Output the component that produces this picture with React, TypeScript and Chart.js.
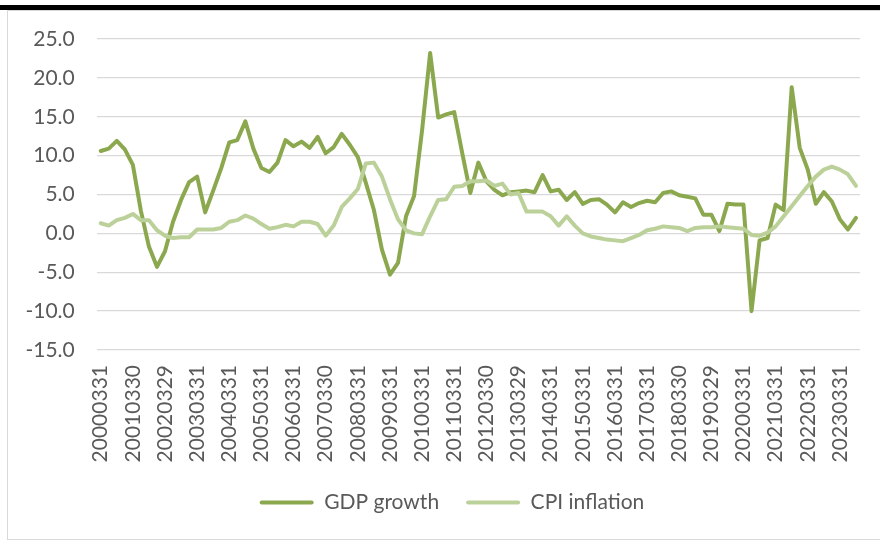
import React, { useEffect, useRef } from "react";
import { Chart, registerables } from "chart.js";

Chart.register(...registerables);

// Shown category labels (first quarter of every year)
const yearLabels: string[] = [
  "20000331", "20010330", "20020329", "20030331", "20040331", "20050331",
  "20060331", "20070330", "20080331", "20090331", "20100331", "20110331",
  "20120330", "20130329", "20140331", "20150331", "20160331", "20170331",
  "20180330", "20190329", "20200331", "20210331", "20220331", "20230331",
];

// GDP growth, quarterly 2000Q1 .. 2023Q3
const gdpGrowth: number[] = [
  10.6, 10.9, 11.9, 10.8, 8.8, 2.9, -1.7, -4.3, -2.3, 1.5,
  4.3, 6.6, 7.3, 2.7, 5.5, 8.4, 11.7, 12.0, 14.4, 10.9,
  8.4, 7.9, 9.1, 12.0, 11.2, 11.8, 11.0, 12.4, 10.3, 11.1,
  12.8, 11.4, 9.8, 6.5, 3.0, -2.1, -5.3, -3.8, 2.2, 4.8,
  13.3, 23.2, 14.9, 15.3, 15.6, 10.3, 5.2, 9.1, 6.7, 5.6,
  4.9, 5.3, 5.4, 5.5, 5.3, 7.5, 5.4, 5.6, 4.3, 5.3,
  3.8, 4.3, 4.4, 3.7, 2.7, 4.0, 3.4, 3.9, 4.2, 4.0,
  5.2, 5.4, 4.9, 4.7, 4.5, 2.4, 2.4, 0.3, 3.8, 3.7,
  3.7, -10.0, -0.9, -0.6, 3.7, 3.0, 18.8, 11.0, 8.2, 3.8,
  5.3, 4.1, 1.8, 0.5, 2.0,
];

// CPI inflation, quarterly 2000Q1 .. 2023Q3
const cpiInflation: number[] = [
  1.3, 1.0, 1.7, 2.0, 2.5, 1.7, 1.7, 0.4, -0.3, -0.6,
  -0.5, -0.5, 0.5, 0.5, 0.5, 0.7, 1.5, 1.7, 2.3, 1.9,
  1.2, 0.6, 0.8, 1.1, 0.9, 1.5, 1.5, 1.2, -0.3, 1.0,
  3.4, 4.5, 5.7, 9.0, 9.1, 7.3, 4.4, 1.8, 0.4, 0.0,
  -0.1, 2.2, 4.3, 4.4, 6.0, 6.1, 6.7, 6.7, 6.8, 6.1,
  6.4, 5.0, 5.2, 2.8, 2.8, 2.8, 2.2, 1.0, 2.2, 1.0,
  0.0, -0.4, -0.6, -0.8, -0.9, -1.0, -0.6, -0.2, 0.4, 0.6,
  0.9, 0.8, 0.7, 0.3, 0.7, 0.8, 0.8, 0.9, 0.8, 0.7,
  0.6, -0.2, -0.3, 0.1, 0.9, 2.2, 3.5, 4.8, 6.1, 7.3,
  8.2, 8.6, 8.2, 7.6, 6.1,
];

const seriesNames: string[] = ["GDP growth", "CPI inflation"];

const Y_MIN = -15;
const Y_MAX = 25;
const Y_STEP = 5;

const GDP_COLOR = "#8BA84F";
const CPI_COLOR = "#BBD199";
const TEXT_COLOR = "#595959";
const GRID_COLOR = "#D9D9D9";
const FONT_FAMILY = "Lato, 'Open Sans', sans-serif";
const FONT_SIZE = 21;

// full quarterly category list built from the yearly labels
const categories: string[] = [];
yearLabels.forEach((q1) => {
  const yr = q1.slice(0, 4);
  categories.push(q1, yr + "0630", yr + "0930", yr + "1231");
});
categories.length = gdpGrowth.length;

// nudge the legend so it is centred like the original
const legendShift = {
  id: "legendShift",
  afterLayout(chart: any) {
    const l = chart.legend;
    if (l) {
      l.left += 22;
      l.right += 22;
    }
  },
};

export default function App() {
  const canvasRef = useRef<HTMLCanvasElement | null>(null);

  useEffect(() => {
    const canvas = canvasRef.current;
    if (!canvas) return;
    const font = { family: FONT_FAMILY, size: FONT_SIZE };
    const chart = new Chart(canvas, {
      type: "line",
      data: {
        labels: categories,
        datasets: [
          {
            label: seriesNames[0],
            data: gdpGrowth,
            borderColor: GDP_COLOR,
            backgroundColor: GDP_COLOR,
            borderWidth: 4,
            pointRadius: 0,
            tension: 0,
            borderJoinStyle: "round",
            borderCapStyle: "round",
            order: 1,
          },
          {
            label: seriesNames[1],
            data: cpiInflation,
            borderColor: CPI_COLOR,
            backgroundColor: CPI_COLOR,
            borderWidth: 4,
            pointRadius: 0,
            tension: 0,
            borderJoinStyle: "round",
            borderCapStyle: "round",
            order: 0,
          },
        ],
      },
      options: {
        animation: false,
        responsive: false,
        maintainAspectRatio: false,
        layout: { padding: { left: 0, right: 20, top: 39, bottom: 20 } },
        plugins: {
          legend: {
            position: "bottom",
            labels: {
              font,
              color: TEXT_COLOR,
              boxWidth: 54,
              boxHeight: 4,
              padding: 27,
              generateLabels: (ch: any) =>
                ch.data.datasets.map((ds: any, i: number) => ({
                  text: ds.label,
                  fillStyle: ds.borderColor,
                  strokeStyle: ds.borderColor,
                  lineWidth: 0,
                  hidden: false,
                  datasetIndex: i,
                  fontColor: TEXT_COLOR,
                  borderRadius: 2,
                })),
            },
          },
          tooltip: { enabled: false },
          title: { display: false },
        },
        scales: {
          x: {
            offset: true,
            grid: { display: false, drawTicks: false, tickLength: 0 },
            border: { display: false },
            ticks: {
              autoSkip: false,
              maxRotation: 90,
              minRotation: 90,
              padding: 15,
              font,
              color: TEXT_COLOR,
              callback: (_v: any, i: number) => (i % 4 === 0 ? categories[i] : ""),
            },
            afterFit: (s: any) => {
              s.height = 115;
              s.paddingLeft = 0;
              s.paddingRight = 0;
            },
          },
          y: {
            min: Y_MIN,
            max: Y_MAX,
            ticks: {
              stepSize: Y_STEP,
              padding: 22,
              font,
              color: TEXT_COLOR,
              callback: (v: any) => Number(v).toFixed(1),
            },
            grid: { color: GRID_COLOR, lineWidth: 1.3, drawTicks: false, tickLength: 0 },
            border: { display: false },
            afterFit: (s: any) => {
              s.width = 96.7;
              s.paddingTop = 0;
              s.paddingBottom = 0;
            },
          },
        },
      },
      plugins: [legendShift],
    } as any);
    return () => chart.destroy();
  }, []);

  return (
    <div
      style={{
        position: "fixed",
        left: 0,
        top: 0,
        width: 880,
        height: 543,
        background: "#fff",
        overflow: "hidden",
      }}
    >
      <div
        style={{
          position: "absolute",
          left: 0,
          top: 5,
          width: 880,
          height: 5,
          background: "#000",
        }}
      />
      <div
        style={{
          position: "absolute",
          left: 7,
          top: 10,
          width: 880,
          height: 530,
          borderLeft: "1px solid #D9D9D9",
          borderTop: "1px solid #D9D9D9",
          borderBottom: "1px solid #D9D9D9",
          boxSizing: "border-box",
        }}
      />
      <canvas
        ref={canvasRef}
        width={880}
        height={543}
        style={{ position: "absolute", left: 0, top: 0, width: 880, height: 543 }}
      />
    </div>
  );
}
